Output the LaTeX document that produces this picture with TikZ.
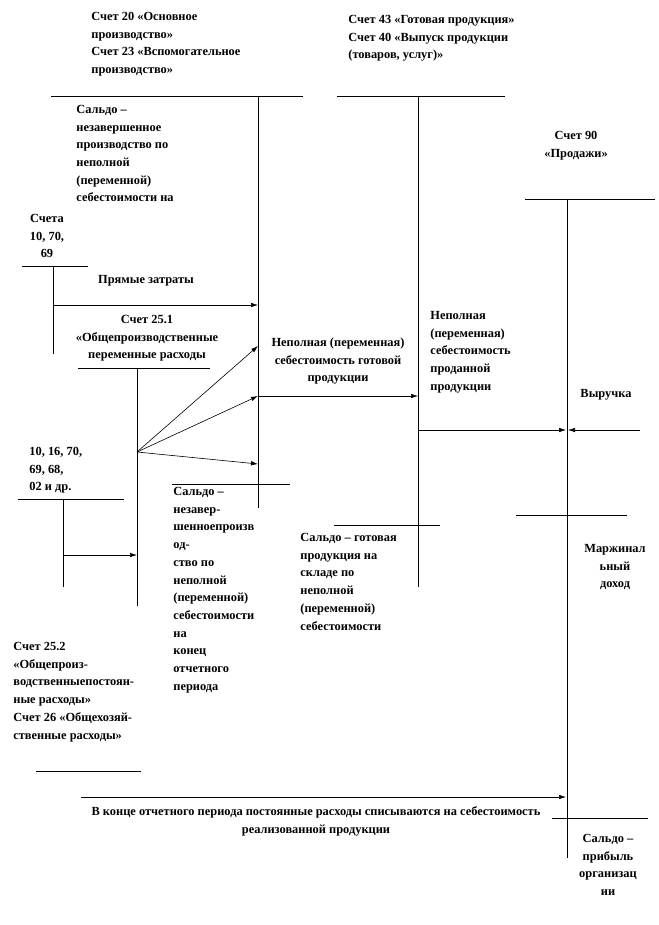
\documentclass[tikz,border=0pt]{standalone}
\usepackage{fontspec}
\setmainfont{Liberation Serif}
\usetikzlibrary{arrows.meta}
\begin{document}
\begin{tikzpicture}[x=1pt,y=-1pt,line width=0.8pt,
  txt/.style={font=\bfseries\fontsize{12.4}{17.7}\selectfont,inner sep=0pt,align=left,anchor=base west},
  ctxt/.style={txt,align=center,anchor=base},
  arr/.style={-{Latex[length=7pt,width=4.5pt]},line width=0.6pt}]
\useasboundingbox (0,0) rectangle (658,925);
% ---------- coordinates ----------
\coordinate (a1L) at (51,96); \coordinate (a1R) at (303,96);
\coordinate (a1T) at (258,96); \coordinate (a1B) at (258,508);
\coordinate (a1p1) at (258,305); \coordinate (a1p2) at (258,346);
\coordinate (a1p3) at (258,396); \coordinate (a1p4) at (258,464);
\coordinate (s1L) at (172,484); \coordinate (s1R) at (290,484);
\coordinate (bL) at (22,266); \coordinate (bR) at (88,266);
\coordinate (bT) at (53,266); \coordinate (bB) at (53,354); \coordinate (bp) at (53,305);
\coordinate (cL) at (78,368); \coordinate (cR) at (210,368);
\coordinate (cT) at (137,368); \coordinate (cB) at (137,606);
\coordinate (cf) at (137,452); \coordinate (cp) at (137,555);
\coordinate (a2L) at (337,96); \coordinate (a2R) at (505,96);
\coordinate (a2T) at (418,96); \coordinate (a2B) at (418,587);
\coordinate (a2p1) at (418,396); \coordinate (a2p2) at (418,430);
\coordinate (s2L) at (334,525); \coordinate (s2R) at (440,525);
\coordinate (dL) at (18,499); \coordinate (dR) at (124,499);
\coordinate (dT) at (63,499); \coordinate (dB) at (63,587); \coordinate (dp) at (63,555);
\coordinate (eL) at (36,771); \coordinate (eR) at (141,771);
\coordinate (fS) at (81,797);
\coordinate (a3L) at (525,199); \coordinate (a3R) at (655,199);
\coordinate (a3T) at (567,199); \coordinate (a3B) at (567,858);
\coordinate (a3p1) at (566,430); \coordinate (a3p2) at (568,430);
\coordinate (a3p3) at (566,797);
\coordinate (gS) at (640,430);
\coordinate (hL) at (516,515); \coordinate (hR) at (627,515);
\coordinate (kL) at (552,818); \coordinate (kR) at (648,818);
% ---------- T-account lines ----------
\draw (a1L) -- (a1R); \draw (a1T) -- (a1B); \draw (s1L) -- (s1R);
\draw (bL) -- (bR); \draw (bT) -- (bB);
\draw (cL) -- (cR); \draw (cT) -- (cB);
\draw (a2L) -- (a2R); \draw (a2T) -- (a2B); \draw (s2L) -- (s2R);
\draw (dL) -- (dR); \draw (dT) -- (dB);
\draw (eL) -- (eR);
\draw (a3L) -- (a3R); \draw (a3T) -- (a3B); \draw (hL) -- (hR); \draw (kL) -- (kR);
% ---------- arrows ----------
\draw[arr] (bp) -- (a1p1);
\draw[arr] (cf) -- (a1p2);
\draw[arr] (cf) -- (a1p3);
\draw[arr] (cf) -- (a1p4);
\draw[arr] (dp) -- (cp);
\draw[arr] (a1p3) -- (a2p1);
\draw[arr] (a2p2) -- (a3p1);
\draw[arr] (gS) -- (a3p2);
\draw[arr] (fS) -- (a3p3);
% ---------- texts (anchor = baseline of last line) ----------
\node[txt] (t1) at (91,73.6) {Счет 20 «Основное\\производство»\\Счет 23 «Вспомогательное\\производство»};
\node[txt] (t2) at (348,58.9) {Счет 43 «Готовая продукция»\\Счет 40 «Выпуск продукции\\(товаров, услуг)»};
\node[txt] (t3) at (76,202) {Сальдо –\\незавершенное\\производство по\\неполной\\(переменной)\\себестоимости на};
\node[ctxt] (t4) at (47,257.9) {Счета\\10, 70,\\69};
\node[ctxt] (t5) at (146,283.5) {Прямые затраты};
\node[ctxt] (t6) at (147,358.9) {Счет 25.1\\«Общепроизводственные\\переменные расходы};
\node[ctxt] (t7) at (338,381.9) {Неполная (переменная)\\себестоимость готовой\\продукции};
\node[txt] (t8) at (430,390.3) {Неполная\\(переменная)\\себестоимость\\проданной\\продукции};
\node[ctxt] (t9) at (576,157.2) {Счет 90\\«Продажи»};
\node[ctxt] (t10) at (606,397.5) {Выручка};
\node[txt] (t11) at (29,490.9) {10, 16, 70,\\69, 68,\\02 и др.};
\node[txt] (t12) at (173,690.2) {Сальдо –\\незавер-\\шенноепроизв\\од-\\ство по\\неполной\\(переменной)\\себестоимости\\на\\конец\\отчетного\\периода};
\node[txt] (t13) at (300,630) {Сальдо – готовая\\продукция на\\складе по\\неполной\\(переменной)\\себестоимости};
\node[ctxt] (t14) at (615,587.9) {Маржинал\\ьный\\доход};
\node[txt] (t15) at (13,739) {Счет 25.2\\«Общепроиз-\\водственныепостоян-\\ные расходы»\\Счет 26 «Общехозяй-\\ственные расходы»};
\node[ctxt] (t16) at (316,833.2) {В конце отчетного периода постоянные расходы списываются на себестоимость\\реализованной продукции};
\node[ctxt] (t17) at (608,895.6) {Сальдо –\\прибыль\\организац\\ии};
\end{tikzpicture}
\end{document}
